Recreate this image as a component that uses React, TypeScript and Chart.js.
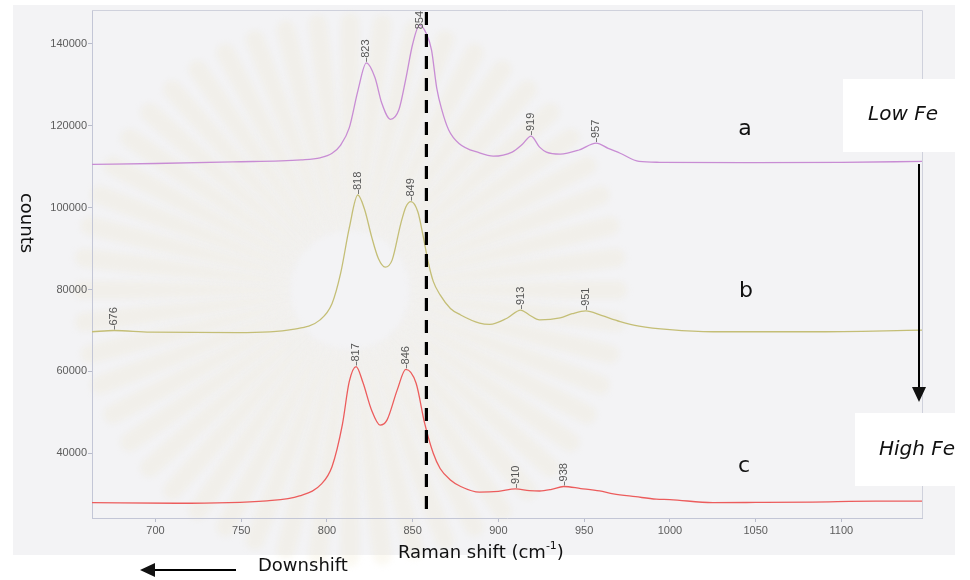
import React, { useEffect, useRef } from "react";
import { Chart, registerables } from "chart.js";

Chart.register(...registerables);

// Raman shift (cm-1) and counts for each spectrum, a = Low Fe ... c = High Fe
const shiftA = [663, 700, 745, 785, 796, 803, 808, 813, 818, 823, 828, 832, 837, 842, 846, 850, 854, 858, 861, 864, 867, 871, 877, 889, 897, 908, 914, 919, 924, 928, 936, 947, 957, 964, 971, 982, 994, 1050, 1100, 1147];
const countsA = [110600, 110800, 111200, 111700, 112200, 113300, 115300, 119500, 128500, 135400, 131800, 125500, 121600, 124000, 131500, 140000, 144600, 142500, 138500, 129300, 123900, 119000, 115700, 113400, 112600, 113600, 115500, 117500, 114800, 113600, 113100, 114100, 115800, 114500, 113300, 111300, 111100, 111000, 111100, 111300];

const shiftB = [663, 676, 697, 748, 780, 796, 803, 808, 813, 818, 822, 826, 830, 834, 838, 843, 846, 849, 853, 856, 859, 862, 866, 872, 878, 889, 895, 905, 913, 918, 924, 936, 943, 951, 960, 971, 982, 1000, 1025, 1083, 1147];
const countsB = [69700, 70000, 69600, 69500, 70300, 72600, 76600, 84000, 95000, 103100, 99500, 93000, 87600, 85500, 87200, 96000, 100200, 101500, 99000, 93300, 86800, 82000, 78700, 75400, 73800, 71800, 71500, 73000, 75000, 73800, 72600, 73100, 74100, 74800, 73700, 72200, 71100, 70200, 69700, 69700, 70100];

const shiftC = [663, 712, 765, 784, 797, 803, 809, 813, 817, 821, 826, 831, 835, 841, 846, 852, 857, 862, 866, 872, 878, 889, 900, 910, 918, 924, 931, 938, 948, 959, 967, 980, 992, 1000, 1025, 1050, 1083, 1120, 1147];
const countsC = [27950, 27800, 28400, 29600, 32600, 36800, 47000, 57500, 61200, 57300, 50600, 46900, 48100, 55500, 60500, 57100, 47300, 40000, 36300, 33500, 31900, 30500, 30700, 31300, 30900, 30800, 31200, 31900, 31400, 30800, 30100, 29400, 28800, 28700, 27950, 28000, 28100, 28300, 28300];

// Peak positions annotated on each spectrum
const peaksA = [823, 854, 919, 957];
const peaksB = [676, 818, 849, 913, 951];
const peaksC = [817, 846, 910, 938];

const seriesNames = ["a", "b", "c"];
const xTicks = [700, 750, 800, 850, 900, 950, 1000, 1050, 1100];
const yTicks = [40000, 60000, 80000, 100000, 120000, 140000];
const xMin = 663;
const xMax = 1147;
const yMin = 24200;
const yMax = 148300;
const markerShift = 858;

const FONT = '"Liberation Sans", Arial, sans-serif';
const WIDE = '"DejaVu Sans", "Liberation Sans", sans-serif';

const toPoints = (xs: number[], ys: number[]) => xs.map((x, i) => ({ x, y: ys[i] }));

// faint emblem behind the plot
function drawSunburst(ctx: CanvasRenderingContext2D, cx: number, cy: number) {
  const rays = 52;
  ctx.save();
  ctx.filter = "blur(3px)";
  ctx.fillStyle = "rgba(236, 229, 196, 0.22)";
  for (let i = 0; i < rays; i++) {
    const a = (i / rays) * Math.PI * 2;
    ctx.save();
    ctx.translate(cx, cy);
    ctx.rotate(a);
    ctx.beginPath();
    ctx.moveTo(60, -2);
    ctx.quadraticCurveTo(190, -10, 268, -9);
    ctx.arc(268, 0, 9, -Math.PI / 2, Math.PI / 2);
    ctx.quadraticCurveTo(190, 10, 60, 2);
    ctx.closePath();
    ctx.fill();
    ctx.restore();
  }
  ctx.restore();
}

const overlayPlugin = {
  id: "overlay",
  beforeDraw(chart: any) {
    const ctx = chart.ctx;
    ctx.save();
    ctx.fillStyle = "#ffffff";
    ctx.fillRect(0, 0, chart.width, chart.height);
    ctx.fillStyle = "#f3f3f5";
    ctx.fillRect(13, 5, 942, 550);
    ctx.restore();
    drawSunburst(ctx, 350, 290);
  },
  afterDatasetsDraw(chart: any) {
    const ctx = chart.ctx;
    const xs = chart.scales.x;
    const ys = chart.scales.y;
    const area = chart.chartArea;

    // frame on top and right
    ctx.save();
    ctx.strokeStyle = "#cfd1dc";
    ctx.lineWidth = 1;
    ctx.beginPath();
    ctx.moveTo(area.left, area.top + 0.5);
    ctx.lineTo(area.right + 0.5, area.top + 0.5);
    ctx.lineTo(area.right + 0.5, area.bottom);
    ctx.stroke();
    ctx.restore();

    // peak annotations
    const peakSets = [peaksA, peaksB, peaksC];
    ctx.save();
    ctx.font = `11px ${FONT}`;
    chart.data.datasets.forEach((ds: any, i: number) => {
      peakSets[i].forEach((px: number) => {
        const pt = ds.data.find((p: any) => p.x === px);
        if (!pt) return;
        const cx = xs.getPixelForValue(pt.x);
        const cy = ys.getPixelForValue(pt.y);
        const label = String(px);
        const tw = ctx.measureText(label).width;
        const start = Math.max(cy - 5, area.top + tw + 1);
        ctx.strokeStyle = "#777";
        ctx.lineWidth = 1;
        if (start === cy - 5) {
          ctx.beginPath();
          ctx.moveTo(Math.round(cx) + 0.5, cy - 1);
          ctx.lineTo(Math.round(cx) + 0.5, cy - 5);
          ctx.stroke();
        }
        ctx.save();
        ctx.translate(cx, start);
        ctx.rotate(-Math.PI / 2);
        ctx.fillStyle = "#555";
        ctx.textAlign = "left";
        ctx.textBaseline = "middle";
        ctx.fillText(label, 0, 0);
        ctx.restore();
      });
    });
    ctx.restore();

    // dashed reference line
    const dx = xs.getPixelForValue(markerShift);
    ctx.save();
    ctx.strokeStyle = "#000";
    ctx.lineWidth = 3.2;
    ctx.setLineDash([13, 9]);
    ctx.beginPath();
    ctx.moveTo(dx, area.top + 2);
    ctx.lineTo(dx, area.bottom - 2);
    ctx.stroke();
    ctx.restore();

    // series letters
    ctx.save();
    ctx.fillStyle = "#111";
    ctx.font = `22px ${WIDE}`;
    ctx.textAlign = "center";
    ctx.textBaseline = "middle";
    ctx.fillText(seriesNames[0], 745, 129);
    ctx.fillText(seriesNames[1], 746, 291);
    ctx.fillText(seriesNames[2], 744, 466);
    ctx.restore();

    // Low Fe / High Fe boxes and arrow
    ctx.save();
    ctx.fillStyle = "#ffffff";
    ctx.fillRect(843, 79, 127, 73);
    ctx.fillRect(855, 413, 115, 73);
    ctx.fillStyle = "#111";
    ctx.font = `italic 20px ${WIDE}`;
    ctx.textAlign = "center";
    ctx.textBaseline = "middle";
    ctx.fillText("Low Fe", 903, 115);
    ctx.fillText("High Fe", 917, 450);
    ctx.strokeStyle = "#000";
    ctx.lineWidth = 2;
    ctx.beginPath();
    ctx.moveTo(919, 164);
    ctx.lineTo(919, 390);
    ctx.stroke();
    ctx.beginPath();
    ctx.moveTo(912, 387);
    ctx.lineTo(926, 387);
    ctx.lineTo(919, 402);
    ctx.closePath();
    ctx.fill();
    ctx.restore();

    // axis titles
    ctx.save();
    ctx.fillStyle = "#111";
    ctx.font = `18px ${WIDE}`;
    ctx.textBaseline = "alphabetic";
    ctx.textAlign = "left";
    const base = "Raman shift (cm";
    const tx = 398;
    ctx.fillText(base, tx, 558);
    let w = ctx.measureText(base).width;
    ctx.font = `11px ${WIDE}`;
    ctx.fillText("-1", tx + w, 549);
    w += ctx.measureText("-1").width;
    ctx.font = `18px ${WIDE}`;
    ctx.fillText(")", tx + w, 558);

    ctx.save();
    ctx.translate(26, 223);
    ctx.rotate(Math.PI / 2);
    ctx.textAlign = "center";
    ctx.textBaseline = "middle";
    ctx.fillText("counts", 0, 0);
    ctx.restore();

    ctx.textAlign = "left";
    ctx.textBaseline = "middle";
    ctx.fillText("Downshift", 258, 566);
    ctx.strokeStyle = "#000";
    ctx.lineWidth = 2;
    ctx.beginPath();
    ctx.moveTo(236, 570);
    ctx.lineTo(152, 570);
    ctx.stroke();
    ctx.beginPath();
    ctx.moveTo(155, 563);
    ctx.lineTo(155, 577);
    ctx.lineTo(140, 570);
    ctx.closePath();
    ctx.fill();
    ctx.restore();
  },
};

export default function App() {
  const canvasRef = useRef<HTMLCanvasElement | null>(null);

  useEffect(() => {
    const canvas = canvasRef.current;
    if (!canvas) return;
    const lineStyle = {
      pointRadius: 0,
      borderWidth: 1.3,
      cubicInterpolationMode: "monotone" as const,
      fill: false,
    };
    const chart = new Chart(canvas, {
      type: "line",
      data: {
        datasets: [
          { label: seriesNames[0], data: toPoints(shiftA, countsA), borderColor: "rgb(200,140,212)", ...lineStyle },
          { label: seriesNames[1], data: toPoints(shiftB, countsB), borderColor: "rgb(196,190,118)", ...lineStyle },
          { label: seriesNames[2], data: toPoints(shiftC, countsC), borderColor: "rgb(236,92,92)", ...lineStyle },
        ],
      },
      options: {
        animation: false,
        responsive: false,
        devicePixelRatio: 1,
        layout: { padding: { left: 0, top: 10, right: 48, bottom: 0 } },
        plugins: { legend: { display: false }, tooltip: { enabled: false } },
        scales: {
          x: {
            type: "linear",
            min: xMin,
            max: xMax,
            afterFit: (s: any) => {
              s.height = 62;
            },
            afterBuildTicks: (s: any) => {
              s.ticks = xTicks.map((v) => ({ value: v }));
            },
            grid: { drawOnChartArea: false, tickLength: 4, color: "#b9bccb" },
            border: { color: "#c3c6d6" },
            ticks: {
              color: "#5c5c5c",
              font: { family: FONT, size: 11 },
              padding: 2,
              maxRotation: 0,
              callback: (v: any) => String(v),
            },
          },
          y: {
            type: "linear",
            min: yMin,
            max: yMax,
            afterFit: (s: any) => {
              s.width = 92;
            },
            afterBuildTicks: (s: any) => {
              s.ticks = yTicks.map((v) => ({ value: v }));
            },
            grid: { drawOnChartArea: false, tickLength: 4, color: "#b9bccb" },
            border: { color: "#c3c6d6" },
            ticks: {
              color: "#5c5c5c",
              font: { family: FONT, size: 11 },
              padding: 1,
              callback: (v: any) => String(v),
            },
          },
        },
      },
      plugins: [overlayPlugin],
    });
    return () => chart.destroy();
  }, []);

  return (
    <div style={{ position: "fixed", left: 0, top: 0, width: 970, height: 580 }}>
      <canvas ref={canvasRef} width={970} height={580} />
    </div>
  );
}
